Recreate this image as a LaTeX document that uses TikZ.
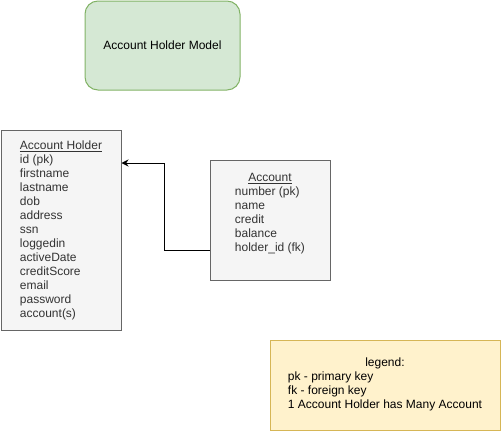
\documentclass[tikz,border=0pt]{standalone}
\usepackage{fontspec}
\setmainfont{Liberation Sans}
\usepackage{xcolor}
\usetikzlibrary{arrows.meta, positioning}

\definecolor{greenfill}{HTML}{D5E8D4}
\definecolor{greendraw}{HTML}{82B366}
\definecolor{grayfill}{HTML}{F5F5F5}
\definecolor{graydraw}{HTML}{666666}
\definecolor{graytext}{HTML}{333333}
\definecolor{notefill}{HTML}{FFF2CC}
\definecolor{notedraw}{HTML}{D6B656}

\begin{document}
\begin{tikzpicture}[x=1pt, y=-1pt,
  font=\fontsize{12}{14}\selectfont,
  modelbox/.style = {shape=rectangle, rounded corners=13pt, draw=greendraw,
    fill=greenfill, line width=1pt, minimum width=155pt, minimum height=89pt},
  tablebox/.style = {shape=rectangle, draw=graydraw, fill=grayfill,
    line width=1pt, minimum width=120pt},
  notebox/.style = {shape=rectangle, draw=notedraw, fill=notefill,
    line width=1pt, minimum width=230pt, minimum height=90pt},
  fields/.style = {inner sep=0pt, text=graytext},
  line/.style={draw, line width=1pt, -{Stealth[length=7pt, width=7pt]}}
  ]
  \useasboundingbox (0,0) rectangle (501,431);

  \node[modelbox] (model) at (162.5,45.5) {Account Holder Model};

  % tables
  \node[tablebox, minimum height=200pt] (holder) at (61,230) {};
  \node[fields] (holderfields) at (61,230.5) {\begin{tabular}{@{}l@{}}
      \multicolumn{1}{@{}c@{}}{\underline{Account Holder}}\\
      id (pk)\\ firstname\\ lastname\\ dob\\ address\\ ssn\\ loggedin\\
      activeDate\\ creditScore\\ email\\ password\\ account(s)
    \end{tabular}};

  \node[tablebox, minimum height=120pt] (account) at (270,220) {};
  \node[fields] (accountfields) at (270,214) {\begin{tabular}{@{}l@{}}
      \multicolumn{1}{@{}c@{}}{\underline{Account}}\\
      number (pk)\\ name\\ credit\\ balance\\ holder\_id (fk)
    \end{tabular}};

  \draw[line] ([yshift=-30pt]account.west) -- ++(-45,0)
    |- ([yshift=67pt]holder.east);

  % legend
  \node[notebox] (legend) at (385,385) {};
  \node[inner sep=0pt] (legendtext) at (385,385) {\begin{tabular}{@{}l@{}}
      \multicolumn{1}{@{}c@{}}{legend:}\\
      pk - primary key\\ fk - foreign key\\ 1 Account Holder has Many Account
    \end{tabular}};
\end{tikzpicture}
\end{document}
